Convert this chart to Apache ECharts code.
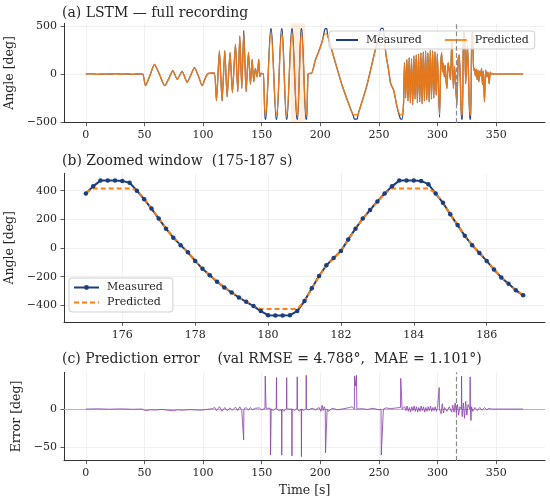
<!DOCTYPE html>
<html lang="en">
<head>
<meta charset="UTF-8">
<title>LSTM prediction</title>
<script src="https://cdn.jsdelivr.net/npm/echarts@6.0.0/dist/echarts.min.js"></script>
<style>
    html, body { margin: 0; padding: 0; background: #fff; }
    #main { width: 550px; height: 503px; }
</style>
</head>
<body>
<div id="main"></div>
<script type="text/javascript">
    // ---- (a) full recording ----
    var fullTime = [
        0, 5, 10, 15, 20, 25, 30, 35, 40, 45, 48.5,
        50.9, 54.5, 58.5, 63, 67.3, 71, 74.2, 77.9, 82.1, 86.4, 89.5, 92.6, 96, 99.2, 102, 103.5, 105, 107, 109.7,
        111.4, 113.9, 116.2, 118.5, 120.5, 123, 125, 127.6, 129.6, 131.3, 133, 134.7, 136.7, 138.7, 140.4, 141.8, 143.2, 144.6, 146, 147.5, 148.3, 149.2, 150.5, 151.5,
        152.8, 153.6, 157.5, 158.3, 162.2, 163.0, 166.7, 167.5, 170.9, 171.7, 175.4, 176.2, 179.9, 180.7, 183.5, 184.3, 187.6, 188.4,
        189.5, 191, 192.4, 195.8, 198.6, 201.5, 203.6, 204.3, 205.5, 206.2, 211.4, 218.5, 225.6, 228.3, 229.0, 231.4, 232.2, 239.8, 245.5, 250, 252, 253.6, 256, 258, 260, 262.6, 265.4, 268.3, 269.7, 271,
        271.8, 272.8, 273.8, 274.8, 275.8, 276.8, 277.8, 278.8, 279.8, 280.8, 281.8, 282.8, 283.8, 284.8, 285.8,
        286.8, 287.8, 288.8, 289.8, 290.8, 291.8, 292.8, 293.8, 294.8, 295.8, 296.8, 297.8, 298.8, 299.8, 300.8,
        301.7, 302.6, 303.5, 304.2, 305, 305.8, 306.5, 307.2, 308, 309, 310, 311, 312.2, 313.5, 314.5, 315.3, 316.5, 317.5, 318.5, 319.5,
        320.4, 321.2, 322.1, 322.9, 324, 325.5, 326.5, 327.5, 328.3, 329.2, 330, 330.7, 331.5, 332.3, 333, 333.8, 334.5, 335.2, 336, 336.8,
        337.5, 338.3, 339, 340, 341, 342, 343, 344, 345, 346, 360, 373
    ];
    var fullMeasured = [
        0, 3, -3, 2, -2, 3, -2, 2, -3, 2, 0,
        -122, -20, 101, -10, -122, -40, 35, -55, 28, -87, -10, 66, -20, -122, -40, -5, 8, 10, 10,
        -278, 243, -281, 243, -236, 222, -194, 309, -184, 396, -149, 455, -184, 226, -107, 153, -80, 59, -31, 153, -28, 10, 0, 5,
        -470, -470, 470, 470, -470, -470, 470, 470, -470, -470, 470, 470, -470, -470, 470, 470, -470, -470,
        -5, 8, 5, 146, 233, 337, 455, 472, 472, 406, 180, -115, -357, -440, -470, -470, -420, -115, 180, 400, 475, 475, 200, 60, -100, -170, -340, -465, -470, -305,
        120, -250, 150, -280, 170, -300, 160, -320, 190, -260, 200, -300, 210, -290, 220,
        -310, 230, -280, 240, -270, 220, -290, 250, -260, 240, -250, 230, -220, 210, -160,
        -450, 60, 220, 20, 110, -30, 90, -60, -150, 120, 40, -60, 360, -150, 80, -100, -320, 150, 200, -100,
        -470, -470, 430, 430, -100, 300, -50, -470, -470, 430, 430, 40, 60, -20, 50, -60, 40, -80, 30, -20,
        60, -110, 30, -290, 40, -30, 20, -100, 20, 0, 0, 0
    ];
    var fullPredicted = [
        0, 2, -2, 2, -1, 2, -2, 1, -2, 2, 0,
        -121, -21, 100, -11, -121, -41, 34, -54, 27, -86, -11, 65, -21, -121, -41, -5, 8, 10, 10,
        -277, 242, -280, 242, -235, 221, -193, 308, -183, 395, -148, 415, -183, 225, -106, 152, -79, 58, -30, 152, -27, 9, 1, 4,
        -425, -425, 415, 415, -425, -425, 415, 415, -425, -425, 415, 415, -425, -425, 415, 415, -425, -425,
        -4, 7, 4, 145, 232, 336, 415, 415, 415, 405, 179, -114, -356, -425, -425, -425, -419, -114, 179, 399, 415, 415, 199, 59, -99, -169, -339, -425, -425, -304,
        119, -249, 149, -279, 169, -299, 159, -319, 189, -259, 199, -299, 209, -289, 219,
        -309, 229, -279, 239, -269, 219, -289, 249, -259, 239, -249, 229, -219, 209, -159,
        -425, 59, 218, 20, 109, -29, 89, -59, -149, 119, 40, -59, 358, -149, 79, -99, -318, 149, 199, -99,
        -425, -425, 415, 415, -99, 298, -49, -425, -425, 415, 415, 40, 59, -19, 49, -59, 39, -79, 29, -19,
        59, -109, 29, -288, 39, -29, 19, -99, 19, 0, 0, 0
    ];

    // ---- (b) zoomed window 175-187 s ----
    var zoomTime = [
        175.0, 175.2, 175.4, 175.6, 175.8, 176.0, 176.2, 176.4, 176.6, 176.8,
        177.0, 177.2, 177.4, 177.6, 177.8, 178.0, 178.2, 178.4, 178.6, 178.8,
        179.0, 179.2, 179.4, 179.6, 179.8, 180.0, 180.2, 180.4, 180.6, 180.8,
        181.0, 181.2, 181.4, 181.6, 181.8, 182.0, 182.2, 182.4, 182.6, 182.8,
        183.0, 183.2, 183.4, 183.6, 183.8, 184.0, 184.2, 184.4, 184.6, 184.8,
        185.0, 185.2, 185.4, 185.6, 185.8, 186.0, 186.2, 186.4, 186.6, 186.8,
        187.0
    ];
    var zoomMeasured = [
        380, 430, 470, 470, 470, 468, 455, 400, 340, 275,
        205, 135, 72, 20, -30, -90, -145, -190, -235, -275,
        -310, -345, -375, -405, -440, -468, -470, -470, -468, -440,
        -370, -280, -195, -120, -70, -20, 60, 135, 205, 265,
        325, 380, 430, 470, 470, 470, 468, 445, 380, 315,
        235, 160, 85, 20, -35, -90, -150, -205, -250, -295,
        -330
    ];
    var zoomPredicted = [
        385, 415, 415, 415, 415, 415, 415, 405, 342, 276,
        206, 137, 74, 22, -28, -88, -143, -189, -233, -273,
        -309, -343, -374, -404, -425, -425, -425, -425, -425, -425,
        -372, -283, -198, -123, -72, -22, 57, 132, 203, 264,
        323, 378, 415, 415, 415, 415, 415, 415, 382, 317,
        237, 162, 87, 22, -33, -88, -148, -203, -249, -293,
        -328
    ];

    // ---- (c) prediction error ----
    var errTime = [
        0, 10, 20, 30, 40, 48, 50, 52, 55, 60, 65, 70, 75, 78, 82, 88, 92, 98, 103, 108,
        110, 111.4, 114, 116, 118.5, 120.5, 123, 125, 127.6, 129.6, 131.3, 133, 134.4, 134.6, 134.8, 136.7, 138.7, 140.4, 142, 144.6,
        146, 148, 150, 152.8, 153.0, 153.5, 153.7, 155, 157.3, 157.5, 157.9, 158.1, 160, 162.4, 162.6, 162.8, 165, 166.9, 167.1, 167.3,
        169, 171.1, 171.3, 171.5, 173, 175.6, 175.8, 176.0, 178, 180.1, 180.3, 180.5, 182, 183.7, 183.9, 184.1, 186, 187.8, 188.0, 188.2,
        190, 193, 196, 199, 200.5, 201.5, 202.5, 203.3, 204.2, 204.4, 205.6, 205.8, 207, 210, 215, 220, 225, 227, 229.0, 229.2,
        230.1, 230.8, 231.2, 232, 236, 240, 245, 250, 251.8, 252, 253.6, 253.8, 256, 260, 265, 268.4, 268.6, 269.6, 269.8, 272,
        273, 274, 275, 276, 277, 278, 279, 280, 281, 282, 283, 284, 285, 286, 287, 288, 289, 290, 291, 292,
        293, 294, 295, 296, 297, 298, 299, 300, 301.2, 301.4, 301.6, 303, 304, 305, 306, 308, 310, 312, 313, 314,
        315, 316, 317, 318, 319, 320.3, 320.5, 320.7, 321, 322, 323, 324, 325, 326, 327.6, 327.8, 328.0, 328.5, 329, 330,
        332, 334, 336, 338, 340, 342, 344, 346, 373
    ];
    var errValue = [
        0, 0.3, -0.2, 0.2, -0.3, 0, -1.5, -2, -1, -1.2, -0.5, -1.5, -2.2, -1, -1.5, -0.8, -1, -1.5, -0.5, 0.5,
        2, -2, 3, -3, 2, -2, 1.5, -1.5, 2.5, -2, 3, -2, 0, -40, 0, 2, -1.5, 2, -1, 1,
        -1, 1.5, -1, 1, 43, 43, 1, -1.5, 1, -60, -60, 0, -2, 2, 41, 0, -2, -1, -60, 0,
        -3, 1, 41, 0, -2, 0, -61, 0, -2, 1, 42, 0, -3, 0, -62, 0, -2, 1, 44, 0,
        -1, 1, -1, 2, -3, 5, -2, 3, 0, -57, -57, 0, -3, 1, -1, 0.5, 2, 3, 0, 43,
        30, 44, 0, -2, 0.5, -0.5, 1, -1, 0, -60, -60, 0, 1.5, 0.5, 1.5, 2, 40, 40, 0, 3,
        -2, 4, -3, 2, -4, 3, -2, 4, -3, 3, -4, 2, -3, 4, -2, 3, -4, 2, -3, 3,
        -2, 4, -3, 2, -2, 3, -3, 2, 0, 28, 0, -6, 7, -5, 2, -3, 3, -4, 5, -4,
        8, -5, 6, -8, 3, 0, 43, 0, -10, 8, -12, 10, -8, 6, 0, 42, 0, -15, 3, -3,
        2, -2, 2, -1.5, 2, -1, 1, 0, 0
    ];

    var splitTime = 315.7;        // dashed train/val marker
    var spanStart = 175, spanEnd = 187;

    var timeTicks = [0, 50, 100, 150, 200, 250, 300, 350];
    var angleTicks = [-500, 0, 500];
    var zoomTimeTicks = [176, 178, 180, 182, 184, 186];
    var zoomAngleTicks = [-400, -200, 0, 200, 400];
    var errTicks = [-50, 0];

    var NAVY = '#1b3f7e', ORANGE = '#ff7f0e', PURPLE = '#8e44ad';
    var FONT = 'DejaVu Serif', INK = '#262626';

    function pairs(xs, ys) {
        return xs.map(function (x, i) { return [x, ys[i]]; });
    }
    function minus(v) { return String(v).replace('-', '\u2212'); }

    function axis(gridIndex, min, max, ticks, extra) {
        var a = {
            type: 'value', gridIndex: gridIndex, min: min, max: max,
            axisLine: { show: true, onZero: false, lineStyle: { color: '#333', width: 1 } },
            axisTick: { show: true, length: 3.5, customValues: ticks, lineStyle: { color: '#333', width: 0.8 } },
            axisLabel: { customValues: ticks, fontFamily: FONT, fontSize: 11, color: INK, margin: 7, formatter: minus },
            splitLine: { show: true, lineStyle: { color: '#ececec', width: 0.8 } },
            nameTextStyle: { fontFamily: FONT, fontSize: 12.5, color: INK }
        };
        for (var k in extra) a[k] = extra[k];
        return a;
    }

    var legendBox = {
        textStyle: { fontFamily: FONT, fontSize: 11, color: INK, padding: [0, 0, 0, 3] },
        backgroundColor: 'rgba(255,255,255,0.8)', borderColor: '#cfcfcf', borderWidth: 1, borderRadius: 3
    };
    var noSymbol = { opacity: 0 };

    var chart = echarts.init(document.getElementById('main'));
    chart.setOption({
        animation: false,
        backgroundColor: '#fff',
        title: [
            { text: '(a) LSTM \u2014 full recording', left: 62, top: 6 },
            { text: '(b) Zoomed window  (175-187 s)', left: 62, top: 154 },
            { text: '(c) Prediction error    (val RMSE = 4.788\u00b0,  MAE = 1.101\u00b0)', left: 62, top: 352 }
        ].map(function (t) {
            t.textStyle = { fontFamily: FONT, fontSize: 14, fontWeight: 'normal', color: INK };
            t.padding = 0;
            return t;
        }),
        legend: [
            Object.assign({
                data: [
                    { name: 'Measured', itemStyle: noSymbol },
                    { name: 'Predicted', itemStyle: noSymbol }
                ],
                left: 329, top: 31, orient: 'horizontal',
                itemWidth: 22, itemHeight: 12, itemGap: 22, padding: [3.5, 6, 3.5, 6]
            }, legendBox),
            Object.assign({
                data: [
                    { name: 'Measured (b)' },
                    { name: 'Predicted (b)', itemStyle: noSymbol }
                ],
                left: 69, top: 278, orient: 'vertical',
                itemWidth: 25, itemHeight: 6, itemGap: 4, padding: [4, 10, 4, 4],
                formatter: function (name) { return name.replace(' (b)', ''); }
            }, legendBox)
        ],
        grid: [
            { left: 64, right: 5, top: 23.3, height: 99.4, outerBoundsMode: 'none' },
            { left: 64, right: 5, top: 173.3, height: 149, outerBoundsMode: 'none' },
            { left: 64, right: 5, top: 372.3, height: 88.4, outerBoundsMode: 'none' }
        ],
        xAxis: [
            axis(0, -18.65, 391.65, timeTicks),
            axis(1, 174.4, 187.6, zoomTimeTicks),
            axis(2, -18.65, 391.65, timeTicks, { name: 'Time [s]', nameLocation: 'middle', nameGap: 24 })
        ],
        yAxis: [
            axis(0, -507, 528, angleTicks, { name: 'Angle [deg]', nameLocation: 'middle', nameGap: 44 }),
            axis(1, -518, 521, zoomAngleTicks, { name: 'Angle [deg]', nameLocation: 'middle', nameGap: 44 }),
            axis(2, -67.3, 47.9, errTicks, { name: 'Error [deg]', nameLocation: 'middle', nameGap: 37 })
        ],
        series: [
            {
                name: 'Measured', type: 'line', xAxisIndex: 0, yAxisIndex: 0,
                data: pairs(fullTime, fullMeasured), symbol: 'none', smooth: 0.2,
                lineStyle: { color: NAVY, width: 1.2 }, itemStyle: { color: NAVY },
                markLine: {
                    silent: true, symbol: ['none', 'none'], label: { show: false },
                    lineStyle: { color: '#8a8a8a', type: 'dashed', width: 1.2 },
                    data: [{ xAxis: splitTime }]
                }
            },
            {
                name: 'Predicted', type: 'line', xAxisIndex: 0, yAxisIndex: 0,
                data: pairs(fullTime, fullPredicted), symbol: 'none', smooth: 0.2,
                lineStyle: { color: ORANGE, width: 1.4, opacity: 0.88 }, itemStyle: { color: ORANGE },
                markArea: {
                    silent: true,
                    itemStyle: { color: 'rgba(255,127,14,0.13)' },
                    data: [[{ xAxis: spanStart }, { xAxis: spanEnd }]]
                }
            },
            {
                name: 'Measured (b)', type: 'line', xAxisIndex: 1, yAxisIndex: 1,
                data: pairs(zoomTime, zoomMeasured), symbol: 'circle', symbolSize: 4.5, showSymbol: true,
                lineStyle: { color: NAVY, width: 2 }, itemStyle: { color: NAVY }
            },
            {
                name: 'Predicted (b)', type: 'line', xAxisIndex: 1, yAxisIndex: 1, z: 3,
                data: pairs(zoomTime, zoomPredicted), symbol: 'none',
                lineStyle: { color: ORANGE, width: 2, type: [5, 3] }, itemStyle: { color: ORANGE }
            },
            {
                name: 'Error', type: 'line', xAxisIndex: 2, yAxisIndex: 2,
                data: pairs(errTime, errValue), symbol: 'none',
                lineStyle: { color: PURPLE, width: 1, opacity: 0.85 }, itemStyle: { color: PURPLE },
                markLine: {
                    silent: true, z: 1, symbol: ['none', 'none'], label: { show: false },
                    data: [
                        { yAxis: 0, lineStyle: { color: '#b8b8b8', type: 'solid', width: 1.2 } },
                        { xAxis: splitTime, lineStyle: { color: '#8a8a8a', type: 'dashed', width: 1.2 } }
                    ]
                }
            }
        ]
    });
</script>
</body>
</html>
